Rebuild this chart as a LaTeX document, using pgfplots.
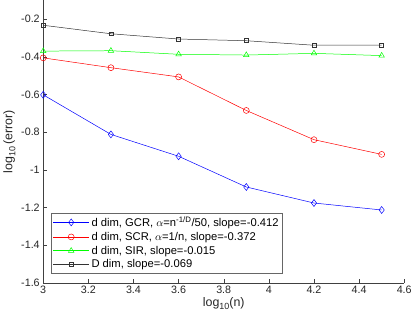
\documentclass[border=0pt]{standalone}
\usepackage{fontspec}
\setmainfont{Liberation Sans}
\usepackage{pgfplots}
\pgfplotsset{compat=1.18}
\newcommand{\sub}[1]{\raisebox{-3bp}{\fontsize{9}{9}\selectfont #1}}

\begin{document}
\begin{tikzpicture}
\begin{axis}[
  scale only axis,
  width=362bp, height=283.5bp,
  xmin=3, xmax=4.6, ymin=-1.6, ymax=-0.1,
  xtick={3,3.2,...,4.6},
  ytick={-1.6,-1.4,-1.2,-1,-0.8,-0.6,-0.4,-0.2},
  axis x line=bottom, axis y line=left,
  axis line style={-, black!75},
  tick align=inside,
  major tick length=3.5bp,
  tick style={black!75},
  ticklabel style={font=\fontsize{10.8}{12}\selectfont, text=black!85},
  /pgf/number format/assume math mode=true,
  xlabel={log\sub{10}(n)},
  ylabel={log\sub{10}\,(error)},
  label style={font=\fontsize{12.5}{14}\selectfont, text=black!85},
  xlabel style={yshift=3bp},
  ylabel style={yshift=-1bp},
  legend cell align=left,
  legend style={at={(axis description cs:0.022,0.035)}, anchor=south west,
    draw=black!60, fill=white, font=\fontsize{11.3}{12.5}\selectfont,
    inner sep=1.5bp, row sep=0.2bp},
  legend image code/.code={\draw[mark repeat=2,mark phase=2]
    plot coordinates {(0cm,0cm) (0.64cm,0cm) (1.28cm,0cm)};},
  every axis plot/.append style={line width=0.5pt, mark options={solid, fill=none}},
]
\addplot[blue, mark=diamond, mark size=3.5] coordinates {
  (3,-0.602) (3.3,-0.812) (3.6,-0.928) (3.9,-1.091) (4.2,-1.176) (4.5,-1.213)};
\addlegendentry{d dim, GCR, $\alpha$=n\textsuperscript{-1/D}/50, slope=-0.412}
\addplot[red, mark=o, mark size=3] coordinates {
  (3,-0.406) (3.3,-0.458) (3.6,-0.507) (3.9,-0.685) (4.2,-0.840) (4.5,-0.918)};
\addlegendentry{d dim, SCR, $\alpha$=1/n, slope=-0.372}
\addplot[green, mark=triangle, mark size=3.2] coordinates {
  (3,-0.370) (3.3,-0.368) (3.6,-0.387) (3.9,-0.391) (4.2,-0.382) (4.5,-0.394)};
\addlegendentry{d dim, SIR, slope=-0.015}
\addplot[black!80, mark=square, mark size=2] coordinates {
  (3,-0.233) (3.3,-0.278) (3.6,-0.306) (3.9,-0.315) (4.2,-0.339) (4.5,-0.339)};
\addlegendentry{D dim, slope=-0.069}
\end{axis}
\end{tikzpicture}
\end{document}
